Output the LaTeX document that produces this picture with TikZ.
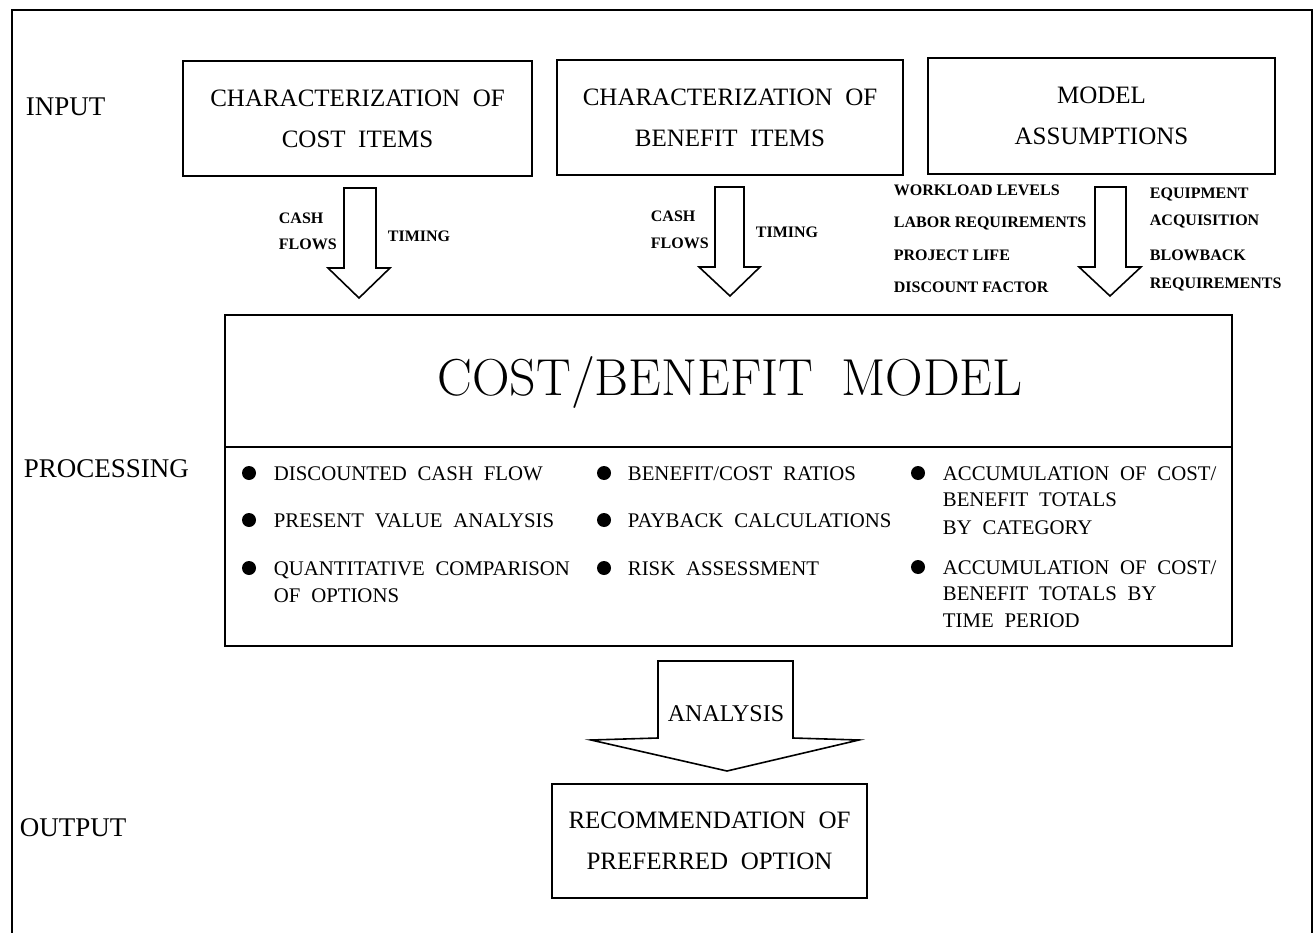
\documentclass[tikz,border=0pt]{standalone}
\usepackage{fontspec}
\newfontfamily\tms{Liberation Serif}
\newcommand\wideboxsp{\spaceskip=12.5pt plus 2pt minus 1pt\relax}
\newcommand\wideitemsp{\spaceskip=10.8pt plus 2pt minus 1pt\relax}
\newcommand\widetitlesp{\spaceskip=28pt plus 2pt minus 1pt\relax}
\begin{document}
\begin{tikzpicture}[x=1pt,y=-1pt,line width=1.8pt,line join=miter,
  box/.style={draw,line width=1.8pt,inner sep=0pt,align=center,font=\tms\fontsize{25}{41}\selectfont,execute at begin node=\wideboxsp},
  lab/.style={font=\tms\bfseries\fontsize{16}{18}\selectfont,anchor=base west,inner sep=0pt},
  item/.style={font=\tms\fontsize{20.8}{26}\selectfont,execute at begin node=\wideitemsp,anchor=base west,inner sep=0pt},
  side/.style={font=\tms\fontsize{27}{30}\selectfont,anchor=base west,inner sep=0pt},
  blk/.style={draw,line width=1.6pt,fill=white,line join=miter},
  dot/.style={circle,fill=black,inner sep=0pt,minimum size=14pt}]
\useasboundingbox (0,0) rectangle (1316,933);
% outer frame (open at bottom)
\draw[line width=1.5pt] (12,933) -- (12,10) -- (1312,10) -- (1312,933);

% side labels
\node[side] (lin)  at (25,116) {INPUT};
\node[side] (lproc) at (23,477) {PROCESSING};
\node[side] (lout) at (19,836) {OUTPUT};

% input boxes
\node[box,minimum width=349pt,minimum height=115pt] (cost) at (357.5,118.5) {CHARACTERIZATION OF\\COST ITEMS};
\node[box,minimum width=346pt,minimum height=115pt] (ben) at (730,117.5) {CHARACTERIZATION OF\\BENEFIT ITEMS};
\node[box,minimum width=347pt,minimum height=116pt] (ass) at (1101.5,116) {MODEL\\ASSUMPTIONS};

% block arrows
\draw[blk] (344,188) -- (376,188) -- (376,268) -- (390,268) -- (359,298) -- (328,268) -- (344,268) -- cycle;
\draw[blk] (715,187) -- (744,187) -- (744,267) -- (760,267) -- (730,296) -- (699,267) -- (715,267) -- cycle;
\draw[blk] (1095,187) -- (1126,187) -- (1126,267) -- (1141,267) -- (1110,296) -- (1079,267) -- (1095,267) -- cycle;

% arrow labels
\node[lab] (c1a) at (278,224) {CASH};
\node[lab] (c1b) at (278,250) {FLOWS};
\node[lab] (t1)  at (387,241) {TIMING};
\node[lab] (c2a) at (650,222) {CASH};
\node[lab] (c2b) at (650,248) {FLOWS};
\node[lab] (t2)  at (755,238) {TIMING};
\node[lab] (m1) at (893,196) {WORKLOAD LEVELS};
\node[lab] (m2) at (893,228) {LABOR REQUIREMENTS};
\node[lab] (m3) at (893,261) {PROJECT LIFE};
\node[lab] (m4) at (893,292) {DISCOUNT FACTOR};
\node[lab] (m5) at (1149,199) {EQUIPMENT};
\node[lab] (m6) at (1149,226) {ACQUISITION};
\node[lab] (m7) at (1149,261) {BLOWBACK};
\node[lab] (m8) at (1149,288) {REQUIREMENTS};

% main model box
\node[draw,line width=1.8pt,minimum width=1007pt,minimum height=331pt,inner sep=0pt] (cbm) at (728.5,480.5) {};
\draw[line width=1.8pt] (cbm.west |- 0,447) -- (cbm.east |- 0,447);
\node[anchor=base,inner sep=0pt,font=\fontsize{52}{58}\selectfont,execute at begin node=\widetitlesp] (title) at (730,395) {COST/BENEFIT MODEL};

% bullets
\node[dot] (d11) at (249,473) {};
\node[dot] (d12) at (249,520) {};
\node[dot] (d13) at (249,568) {};
\node[dot] (d21) at (604,473) {};
\node[dot] (d22) at (604,520) {};
\node[dot] (d23) at (604,568) {};
\node[dot] (d31) at (918,473) {};
\node[dot] (d32) at (918,567) {};

\node[item] (i11) at (273,480) {DISCOUNTED CASH FLOW};
\node[item] (i12) at (273,527) {PRESENT VALUE ANALYSIS};
\node[item] (i13a) at (273,575) {QUANTITATIVE COMPARISON};
\node[item] (i13b) at (273,602) {OF OPTIONS};
\node[item] (i21) at (627,480) {BENEFIT/COST RATIOS};
\node[item] (i22) at (627,527) {PAYBACK CALCULATIONS};
\node[item] (i23) at (627,575) {RISK ASSESSMENT};
\node[item] (i31a) at (942,480) {ACCUMULATION OF COST/};
\node[item] (i31b) at (942,506) {BENEFIT TOTALS};
\node[item] (i31c) at (942,534) {BY CATEGORY};
\node[item] (i32a) at (942,574) {ACCUMULATION OF COST/};
\node[item] (i32b) at (942,600) {BENEFIT TOTALS BY};
\node[item] (i32c) at (942,627) {TIME PERIOD};

% analysis arrow
\draw[blk] (658,661) -- (793,661) -- (793,738) -- (859,740) -- (727,771) -- (591,740) -- (658,738) -- cycle;
\node[anchor=base,inner sep=0pt,font=\tms\fontsize{24}{28}\selectfont] (ana) at (726,721) {ANALYSIS};

% output box
\node[box,minimum width=315pt,minimum height=114pt] (rec) at (709.5,841) {RECOMMENDATION OF\\PREFERRED OPTION};
\end{tikzpicture}
\end{document}
